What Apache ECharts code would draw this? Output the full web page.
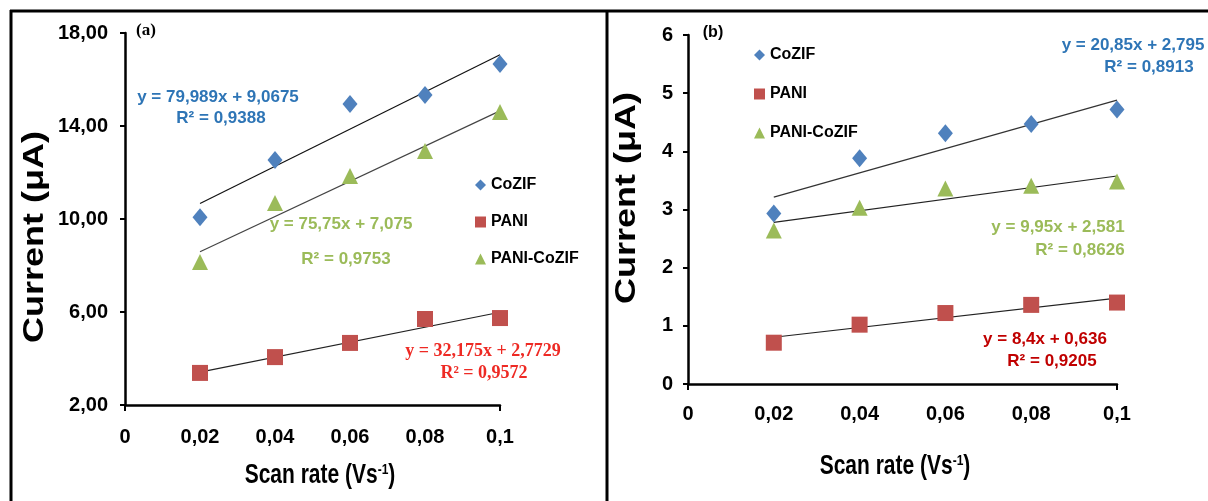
<!DOCTYPE html>
<html>
<head>
<meta charset="utf-8">
<script src="https://cdn.jsdelivr.net/npm/echarts@6/dist/echarts.min.js"></script>
<style>
html,body{margin:0;padding:0;background:#fff;}
#chart{width:1208px;height:501px;}
</style>
</head>
<body>
<div id="chart"></div>
<script>
// ---- data ----
const seriesNames = ['CoZIF', 'PANI', 'PANI-CoZIF'];
const scanRates = [0.02, 0.04, 0.06, 0.08, 0.1];
const xTickLabels = ['0', '0,02', '0,04', '0,06', '0,08', '0,1'];
const xTitle = 'Scan rate (Vs{sup|-1})';
const yTitle = 'Current (μA)';

const aCoZIF = [10.08, 12.54, 14.95, 15.33, 16.67];
const aPANI = [3.38, 4.06, 4.67, 5.70, 5.74];
const aPANICoZIF = [8.15, 10.69, 11.85, 12.92, 14.60];
const aSlopes = [79.989, 32.175, 75.75];
const aIntercepts = [9.0675, 2.7729, 7.075];
const aEquations = ['y = 79,989x + 9,0675', 'y = 32,175x + 2,7729', 'y = 75,75x + 7,075'];
const aR2 = ['R² = 0,9388', 'R² = 0,9572', 'R² = 0,9753'];
const aYTickLabels = ['2,00', '6,00', '10,00', '14,00', '18,00'];

const bCoZIF = [2.93, 3.88, 4.31, 4.47, 4.72];
const bPANI = [0.71, 1.02, 1.22, 1.36, 1.40];
const bPANICoZIF = [2.64, 3.03, 3.36, 3.41, 3.48];
const bSlopes = [20.85, 8.4, 9.95];
const bIntercepts = [2.795, 0.636, 2.581];
const bEquations = ['y = 20,85x + 2,795', 'y = 8,4x + 0,636', 'y = 9,95x + 2,581'];
const bR2 = ['R² = 0,8913', 'R² = 0,9205', 'R² = 0,8626'];
const bYTickLabels = ['0', '1', '2', '3', '4', '5', '6'];

// ---- styles ----
const SANS = "'Liberation Sans', Arial, sans-serif";
const SERIF = "'Liberation Serif', 'Times New Roman', serif";
const markerColors = ['#4F81BD', '#C0504D', '#9BBB59'];
const markerSymbols = ['diamond', 'rect', 'triangle'];
const markerSizes = [[15, 18], 16, [16, 16]];

const chart = echarts.init(document.getElementById('chart'), null, {renderer: 'canvas'});

function xAxisCfg(gridIndex, margin) {
  return {
    type: 'value', gridIndex: gridIndex, min: 0, max: 0.1, interval: 0.02,
    axisLine: {show: true, onZero: false, lineStyle: {color: '#000', width: 2.5}},
    axisTick: {show: true, inside: false, length: 6, customValues: [0, 0.1], lineStyle: {color: '#000', width: 2}},
    axisLabel: {fontFamily: SANS, fontWeight: 'bold', fontSize: 20, color: '#000', margin: margin,
      formatter: (v, i) => xTickLabels[i]},
    splitLine: {show: false}
  };
}
function yAxisCfg(gridIndex, min, max, interval, labels, margin) {
  return {
    type: 'value', gridIndex: gridIndex, min: min, max: max, interval: interval,
    axisLine: {show: true, onZero: false, lineStyle: {color: '#000', width: 2.5}},
    axisTick: {show: true, inside: false, length: 5, lineStyle: {color: '#000', width: 2}},
    axisLabel: {fontFamily: SANS, fontWeight: 'bold', fontSize: 20, color: '#000', margin: margin,
      formatter: (v, i) => labels[i]},
    splitLine: {show: false}
  };
}

function scatter(name, idx, xIdx, vals) {
  return {
    name: name, type: 'scatter', xAxisIndex: xIdx, yAxisIndex: xIdx,
    data: scanRates.map((x, i) => [x, vals[i]]),
    symbol: markerSymbols[idx], symbolSize: markerSizes[idx],
    itemStyle: {color: markerColors[idx], opacity: 1},
    z: 3
  };
}
function trend(xIdx, slope, intercept, color) {
  const x0 = scanRates[0], x1 = scanRates[scanRates.length - 1];
  return {
    type: 'line', xAxisIndex: xIdx, yAxisIndex: xIdx,
    data: [[x0, slope * x0 + intercept], [x1, slope * x1 + intercept]],
    showSymbol: false, symbol: 'none', silent: true,
    lineStyle: {color: color, width: 1.2}, z: 2
  };
}

function txt(x, y, text, color, size, family) {
  return {type: 'text', x: x, y: y, z: 100,
    style: {text: text, fill: color, font: 'bold ' + size + 'px ' + family, align: 'center', verticalAlign: 'middle'}};
}
function vtitle(x, y, text) {
  return {type: 'text', x: x, y: y, rotation: Math.PI / 2, scaleX: 1.2, z: 100,
    style: {text: text, fill: '#000', font: 'bold 30px ' + SANS, align: 'center', verticalAlign: 'middle'}};
}
function htitle(x, y, text) {
  return {type: 'text', x: x, y: y, scaleY: 1.28, z: 100,
    style: {text: text, fill: '#000', fontFamily: SANS, fontWeight: 'bold', fontSize: 21,
      align: 'center', verticalAlign: 'middle',
      rich: {sup: {fill: '#000', fontFamily: SANS, fontWeight: 'bold', fontSize: 12, verticalAlign: 'top', padding: [0, 0, 10, 0]}}}};
}
function vline(x, y1, y2) {
  return {type: 'line', z: 100, shape: {x1: x, y1: y1, x2: x, y2: y2}, style: {stroke: '#000', lineWidth: 3}};
}
function hline(y, x1, x2) {
  return {type: 'line', z: 100, shape: {x1: x1, y1: y, x2: x2, y2: y}, style: {stroke: '#000', lineWidth: 3}};
}

const blue = '#2E75B6', green = '#9BBB59', redA = '#EE2A24', redB = '#C00000';
const legendText = {fontFamily: SANS, fontWeight: 'bold', fontSize: 16, color: '#000'};

const option = {
  backgroundColor: '#fff',
  animation: false,
  grid: [
    {left: 125, right: 708, top: 33, bottom: 96},
    {left: 688, right: 91, top: 35, bottom: 117}
  ],
  xAxis: [xAxisCfg(0, 22), xAxisCfg(1, 20)],
  yAxis: [
    yAxisCfg(0, 2, 18, 4, aYTickLabels, 17),
    yAxisCfg(1, 0, 6, 1, bYTickLabels, 15)
  ],
  legend: [
    {data: seriesNames, orient: 'vertical', left: 470, top: 172, itemGap: 21, itemWidth: 11, itemHeight: 11,
     textStyle: legendText, selectedMode: false},
    {data: seriesNames.slice(), orient: 'vertical', left: 749, top: 42, itemGap: 23, itemWidth: 11, itemHeight: 11,
     textStyle: legendText, selectedMode: false}
  ],
  series: [
    scatter('CoZIF', 0, 0, aCoZIF),
    scatter('PANI', 1, 0, aPANI),
    scatter('PANI-CoZIF', 2, 0, aPANICoZIF),
    trend(0, aSlopes[0], aIntercepts[0], '#111'),
    trend(0, aSlopes[1], aIntercepts[1], '#222'),
    trend(0, aSlopes[2], aIntercepts[2], '#444'),
    scatter('CoZIF', 0, 1, bCoZIF),
    scatter('PANI', 1, 1, bPANI),
    scatter('PANI-CoZIF', 2, 1, bPANICoZIF),
    trend(1, bSlopes[0], bIntercepts[0], '#333'),
    trend(1, bSlopes[1], bIntercepts[1], '#222'),
    trend(1, bSlopes[2], bIntercepts[2], '#222')
  ],
  graphic: [
    hline(11, 10, 1208), vline(11, 10, 501), vline(607, 10, 501),
    vtitle(35, 237, yTitle),
    vtitle(627, 198, yTitle),
    htitle(320, 476, xTitle),
    htitle(895, 467, xTitle),
    txt(146, 31, '(a)', '#000', 17, SERIF),
    txt(713, 33, '(b)', '#000', 16, SANS),
    txt(218, 97, aEquations[0], blue, 17, SANS),
    txt(221, 118, aR2[0], blue, 17, SANS),
    txt(341, 224, aEquations[2], green, 17, SANS),
    txt(346, 259, aR2[2], green, 17, SANS),
    txt(483, 351, aEquations[1], redA, 18, SERIF),
    txt(484, 373, aR2[1], redA, 18, SERIF),
    txt(1133, 45, bEquations[0], blue, 17, SANS),
    txt(1149, 67, bR2[0], blue, 17, SANS),
    txt(1058, 227, bEquations[2], green, 17, SANS),
    txt(1080, 250, bR2[2], green, 17, SANS),
    txt(1045, 339, bEquations[1], redB, 17, SANS),
    txt(1052, 361, bR2[1], redB, 17, SANS)
  ]
};
chart.setOption(option);
</script>
</body>
</html>
